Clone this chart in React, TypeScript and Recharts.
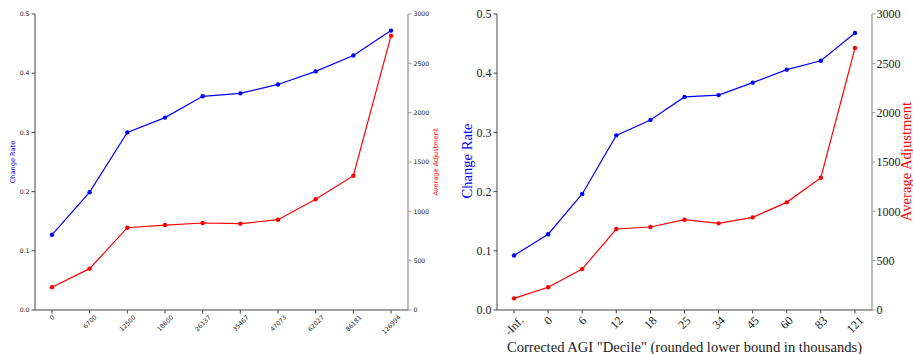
import React from 'react';
import { LineChart, Line, XAxis, YAxis } from 'recharts';

// ---- Left panel data ----
const leftLabels = ['0', '6700', '12500', '18600', '26137', '35467', '47073', '62027', '86181', '126994'];
const leftRate = [0.127, 0.199, 0.3, 0.325, 0.361, 0.366, 0.381, 0.403, 0.43, 0.472];
const leftAdj = [230, 419, 834, 861, 882, 875, 915, 1122, 1361, 2780];

// ---- Right panel data ----
const rightLabels = ['-Inf.', '0', '6', '12', '18', '25', '34', '45', '60', '83', '121'];
const rightRate = [0.092, 0.128, 0.196, 0.295, 0.321, 0.36, 0.363, 0.384, 0.406, 0.421, 0.468];
const rightAdj = [118, 230, 415, 821, 841, 915, 878, 939, 1091, 1341, 2655];

const rateTicks = [0, 0.1, 0.2, 0.3, 0.4, 0.5];
const adjTicks = [0, 500, 1000, 1500, 2000, 2500, 3000];

const SANS = '"DejaVu Sans", sans-serif';
const SERIF = '"Liberation Serif", "Times New Roman", serif';

const makeRows = (labels: string[], rates: number[], adjs: number[]) =>
  labels.map((l, i) => ({ i, label: l, rate: rates[i], adj: adjs[i] }));

const rowsL = makeRows(leftLabels, leftRate, leftAdj);
const rowsR = makeRows(rightLabels, rightRate, rightAdj);

const serifW: Record<string, number> = { '-': 0.333, I: 0.333, n: 0.5, f: 0.333, '.': 0.25 };
function estWidth(s: string, serif: boolean) {
  let w = 0;
  for (const c of s) {
    if (serif) w += serifW[c] ?? 0.5;
    else w += c === '.' ? 0.318 : 0.636;
  }
  return w;
}

function RotTick(props: any) {
  const { x, y, payload, labels, fs, family, serif } = props;
  const label = labels[payload.value];
  if (label === undefined) return null;
  const w = estWidth(label, serif) * fs;
  const h = fs * 1.15;
  const cy = y + (w + h) * 0.354;
  return (
    <text
      x={x}
      y={cy}
      transform={`rotate(-45 ${x} ${cy})`}
      textAnchor="middle"
      dominantBaseline="central"
      fontSize={fs}
      fontFamily={family}
      fill="#222"
    >
      {label}
    </text>
  );
}

function VLabel(x: number, y: number, text: string, color: string, fs: number, family: string) {
  return () => (
    <text
      x={x}
      y={y}
      transform={`rotate(-90 ${x} ${y})`}
      textAnchor="middle"
      dominantBaseline="central"
      fontSize={fs}
      fontFamily={family}
      fill={color}
    >
      {text}
    </text>
  );
}

const SPINE = '#444';
const SPINE_R = '#999';

export default function App() {
  const nL = leftLabels.length;
  const nR = rightLabels.length;
  const domL: [number, number] = [-0.45, nL - 1 + 0.45];
  const domR: [number, number] = [-0.5, nR - 1 + 0.5];
  const fsL = 6.2;
  const fsR = 12;

  return (
    <div style={{ position: 'absolute', left: 0, top: 0, width: 913, height: 354, background: '#fff' }}>
      <div style={{ position: 'absolute', left: 0, top: 0 }}>
        <LineChart width={460} height={354} data={rowsL} margin={{ top: 14, right: 0, bottom: 0, left: 0 }}>
          <XAxis
            xAxisId="b"
            dataKey="i"
            type="number"
            domain={domL}
            allowDataOverflow
            ticks={leftLabels.map((_, i) => i)}
            interval={0}
            height={44}
            tickSize={3.5}
            tickMargin={0}
            axisLine={{ stroke: SPINE }}
            tickLine={{ stroke: SPINE }}
            tick={(p: any) => <RotTick {...p} labels={leftLabels} fs={fsL} family={SANS} serif={false} />}
          />
          <XAxis
            xAxisId="t"
            orientation="top"
            dataKey="i"
            type="number"
            domain={domL}
            allowDataOverflow
            height={0}
            tick={false}
            tickLine={false}
            axisLine={{ stroke: SPINE }}
          />
          <YAxis
            yAxisId="l"
            domain={[0, 0.5]}
            ticks={rateTicks}
            interval={0}
            width={35}
            tickSize={3.5}
            tickMargin={2}
            tickFormatter={(v: number) => v.toFixed(1)}
            axisLine={{ stroke: SPINE }}
            tickLine={{ stroke: SPINE }}
            tick={{ fontSize: fsL, fontFamily: SANS, fill: '#222' }}
            label={VLabel(12.5, 162, 'Change Rate', '#0000ff', 6.6, SANS)}
          />
          <YAxis
            yAxisId="r"
            orientation="right"
            domain={[0, 3000]}
            ticks={adjTicks}
            interval={0}
            width={52}
            tickSize={3.5}
            tickMargin={2}
            axisLine={{ stroke: SPINE_R, strokeWidth: 1.3 }}
            tickLine={{ stroke: SPINE_R }}
            tick={{ fontSize: fsL, fontFamily: SANS, fill: '#222' }}
            label={VLabel(435.5, 162, 'Average Adjustment', '#ff0000', 6.6, SANS)}
          />
          <Line
            xAxisId="b"
            yAxisId="l"
            dataKey="rate"
            stroke="#0000ff"
            strokeWidth={1.2}
            dot={{ r: 2.2, fill: '#0000ff', stroke: 'none' }}
            activeDot={false}
            isAnimationActive={false}
          />
          <Line
            xAxisId="b"
            yAxisId="r"
            dataKey="adj"
            stroke="#ff0000"
            strokeWidth={1.2}
            dot={{ r: 2.2, fill: '#ff0000', stroke: 'none' }}
            activeDot={false}
            isAnimationActive={false}
          />
        </LineChart>
      </div>
      <div style={{ position: 'absolute', left: 455, top: 0 }}>
        <LineChart width={458} height={354} data={rowsR} margin={{ top: 14, right: 0, bottom: 0, left: 0 }}>
          <XAxis
            xAxisId="b"
            dataKey="i"
            type="number"
            domain={domR}
            allowDataOverflow
            ticks={rightLabels.map((_, i) => i)}
            interval={0}
            height={44}
            tickSize={3.5}
            tickMargin={0}
            axisLine={{ stroke: SPINE }}
            tickLine={{ stroke: SPINE }}
            tick={(p: any) => <RotTick {...p} labels={rightLabels} fs={fsR} family={SERIF} serif={true} />}
            label={() => (
              <text
                x={229.5}
                y={346.5}
                textAnchor="middle"
                dominantBaseline="central"
                fontSize={14.6}
                fontFamily={SERIF}
                fill="#222"
              >
                Corrected AGI "Decile" (rounded lower bound in thousands)
              </text>
            )}
          />
          <XAxis
            xAxisId="t"
            orientation="top"
            dataKey="i"
            type="number"
            domain={domR}
            allowDataOverflow
            height={0}
            tick={false}
            tickLine={false}
            axisLine={{ stroke: SPINE }}
          />
          <YAxis
            yAxisId="l"
            domain={[0, 0.5]}
            ticks={rateTicks}
            interval={0}
            width={42}
            tickSize={3.5}
            tickMargin={2}
            tickFormatter={(v: number) => v.toFixed(1)}
            axisLine={{ stroke: SPINE }}
            tickLine={{ stroke: SPINE }}
            tick={{ fontSize: fsR, fontFamily: SERIF, fill: '#222' }}
            label={VLabel(12, 161, 'Change Rate', '#0000ff', 14.6, SERIF)}
          />
          <YAxis
            yAxisId="r"
            orientation="right"
            domain={[0, 3000]}
            ticks={adjTicks}
            interval={0}
            width={41}
            tickSize={3.5}
            tickMargin={1}
            axisLine={{ stroke: SPINE_R, strokeWidth: 1.3 }}
            tickLine={{ stroke: SPINE_R }}
            tick={{ fontSize: fsR, fontFamily: SERIF, fill: '#222' }}
            label={VLabel(450.5, 161.5, 'Average Adjustment', '#ff0000', 14.6, SERIF)}
          />
          <Line
            xAxisId="b"
            yAxisId="l"
            dataKey="rate"
            stroke="#0000ff"
            strokeWidth={1.2}
            dot={{ r: 2.2, fill: '#0000ff', stroke: 'none' }}
            activeDot={false}
            isAnimationActive={false}
          />
          <Line
            xAxisId="b"
            yAxisId="r"
            dataKey="adj"
            stroke="#ff0000"
            strokeWidth={1.2}
            dot={{ r: 2.2, fill: '#ff0000', stroke: 'none' }}
            activeDot={false}
            isAnimationActive={false}
          />
        </LineChart>
      </div>
    </div>
  );
}
